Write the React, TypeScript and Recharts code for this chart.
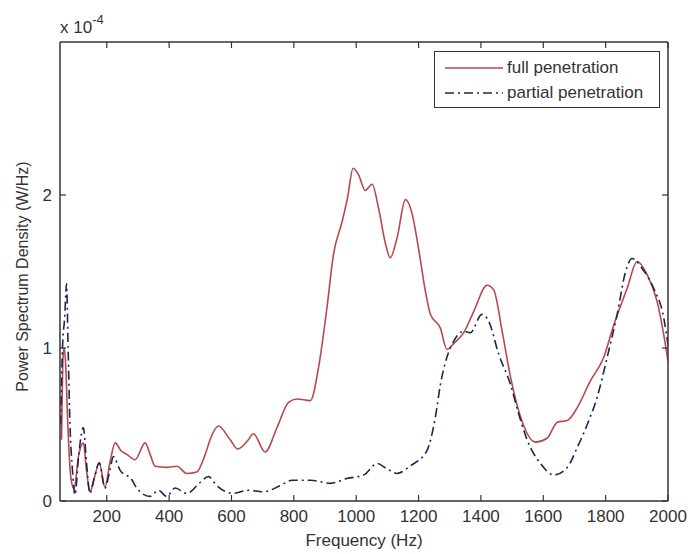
import { LineChart, Line, XAxis, YAxis } from 'recharts';

// values are in units of 1e-4 W/Hz (axis shows "x 10^-4")
const fullFreq = [
  55, 60, 64, 68, 75, 85, 95, 110, 125, 135, 146, 160, 176, 194, 210, 227, 245, 264, 291, 323,
  340, 355, 392, 425, 457, 489, 515, 535, 558, 596, 620, 654, 670, 708, 746, 783, 810, 853, 879, 906,
  927, 954, 972, 990, 1008, 1029, 1051, 1072, 1093, 1109, 1131, 1158, 1179, 1200, 1222, 1238, 1270, 1291, 1313, 1345,
  1377, 1420, 1441, 1468, 1495, 1527, 1575, 1612, 1645, 1677, 1709, 1751, 1794, 1826, 1869, 1901, 1933, 1965, 1986, 2000,
];
const fullPsd = [
  0.4, 0.95, 1.0, 0.9, 0.5, 0.15, 0.08, 0.3, 0.38, 0.2, 0.06, 0.15, 0.25, 0.09, 0.25, 0.38, 0.33, 0.305, 0.27, 0.38,
  0.3, 0.227, 0.22, 0.227, 0.18, 0.19, 0.3, 0.42, 0.49, 0.4, 0.34, 0.4, 0.44, 0.32, 0.48, 0.645, 0.667, 0.656, 0.87, 1.26,
  1.61, 1.82, 1.98, 2.175, 2.13, 2.03, 2.07, 1.91, 1.69, 1.59, 1.72, 1.97, 1.88, 1.65, 1.37, 1.22, 1.13, 0.99, 1.03, 1.1,
  1.24, 1.41, 1.38, 1.11, 0.81, 0.55, 0.385, 0.41, 0.515, 0.526, 0.61, 0.785, 0.94, 1.15, 1.39, 1.565, 1.48, 1.305, 1.09, 0.915,
];

const partialFreq = [
  52, 58, 65, 71, 76, 82, 90, 98, 110, 125, 135, 146, 160, 176, 194, 210, 221, 243, 280, 296,
  339, 366, 392, 419, 457, 499, 526, 553, 606, 654, 703, 756, 794, 853, 917, 970, 1024, 1067, 1099, 1131,
  1174, 1227, 1254, 1270, 1291, 1313, 1345, 1366, 1403, 1425, 1457, 1495, 1521, 1548, 1591, 1634, 1677, 1709, 1741, 1773,
  1805, 1837, 1864, 1885, 1917, 1954, 1986, 2000,
];
const partialPsd = [
  0.5, 1.0, 1.2, 1.42, 1.0, 0.5, 0.2, 0.04, 0.3, 0.48, 0.25, 0.05, 0.15, 0.25, 0.085, 0.2, 0.29, 0.2, 0.14, 0.085,
  0.03, 0.07, 0.03, 0.085, 0.05, 0.12, 0.16, 0.1, 0.05, 0.07, 0.06, 0.1, 0.136, 0.136, 0.115, 0.147, 0.17, 0.245, 0.21, 0.18,
  0.23, 0.33, 0.55, 0.76, 0.94, 1.045, 1.11, 1.1, 1.22, 1.175, 0.96, 0.76, 0.57, 0.4, 0.245, 0.17, 0.22, 0.35, 0.5, 0.68,
  0.94, 1.22, 1.5, 1.585, 1.52, 1.39, 1.2, 1.02,
];

const xTicks = [200, 400, 600, 800, 1000, 1200, 1400, 1600, 1800, 2000];
const yTicks = [0, 1, 2];

const fullData = fullFreq.map((f, i) => ({ freq: f, psd: fullPsd[i] }));
const partialData = partialFreq.map((f, i) => ({ freq: f, psd: partialPsd[i] }));

const FONT = '"Liberation Sans", Arial, sans-serif';
const INK = '#333';
const RED = '#b8494b';
const NAVY = '#1c2650';
const DASHDOT = '9 4 2 4';

const tickStyle = { fill: INK, fontSize: 17, fontFamily: FONT };

const YLabels = (props: any) => {
  const vb = props.viewBox || { x: 0, y: 42, width: 60, height: 459 };
  const cy = vb.y + vb.height / 2 + 5;
  return (
    <g fontFamily={FONT} fill={INK}>
      <text x={22} y={cy} transform={`rotate(-90, 22, ${cy})`} textAnchor="middle" dominantBaseline="central" fontSize={16}>
        Power Spectrum Density (W/Hz)
      </text>
      <text x={vb.x + vb.width} y={vb.y - 9} fontSize={17}>
        x 10
        <tspan dy={-9} fontSize={13}>-4</tspan>
      </text>
    </g>
  );
};

const legendItems = [
  { name: 'full penetration', color: RED, dash: undefined },
  { name: 'partial penetration', color: NAVY, dash: DASHDOT },
];

const LegendBox = () => (
  <div
    style={{
      position: 'absolute',
      left: 434,
      top: 51,
      border: `1.5px solid ${INK}`,
      background: '#fff',
      width: 226,
      height: 57,
      fontFamily: FONT,
      fontSize: 17,
      color: INK,
      boxSizing: 'border-box',
      padding: '3px 0 0 10px',
    }}
  >
    {legendItems.map((it) => (
      <div key={it.name} style={{ display: 'flex', alignItems: 'center', height: 25 }}>
        <svg width={58} height={10} style={{ marginRight: 4 }}>
          <line x1={0} y1={5} x2={58} y2={5} stroke={it.color} strokeWidth={1.6} strokeDasharray={it.dash} />
        </svg>
        <span>{it.name}</span>
      </div>
    ))}
  </div>
);

export default function App() {
  return (
    <div style={{ position: 'absolute', left: 0, top: 0, width: 688, height: 554, background: '#fff' }}>
      <LineChart width={688} height={554} margin={{ top: 41, right: 19, left: 0, bottom: 0 }}>
        <XAxis
          xAxisId="main"
          dataKey="freq"
          type="number"
          domain={[50, 2000]}
          ticks={xTicks}
          allowDataOverflow
          height={53}
          tickSize={-6}
          tickMargin={15}
          tick={tickStyle}
          stroke={INK}
          axisLine={{ stroke: INK, strokeWidth: 1.5 }}
          tickLine={{ stroke: INK, strokeWidth: 1.2 }}
          label={{ value: 'Frequency (Hz)', position: 'insideBottom', offset: 8, fill: INK, fontSize: 17, fontFamily: FONT }}
        />
        <XAxis
          xAxisId="top"
          orientation="top"
          dataKey="freq"
          type="number"
          domain={[50, 2000]}
          ticks={xTicks}
          allowDataOverflow
          height={1}
          tickSize={-6}
          tickFormatter={() => ''}
          axisLine={{ stroke: INK, strokeWidth: 1.5 }}
          tickLine={{ stroke: INK, strokeWidth: 1.2 }}
        />
        <YAxis
          yAxisId="main"
          type="number"
          domain={[0, 3]}
          ticks={yTicks}
          allowDataOverflow
          width={60}
          tickSize={-6}
          tickMargin={14}
          tick={tickStyle}
          axisLine={{ stroke: INK, strokeWidth: 1.5 }}
          tickLine={{ stroke: INK, strokeWidth: 1.2 }}
          label={<YLabels />}
        />
        <YAxis
          yAxisId="right"
          orientation="right"
          type="number"
          domain={[0, 3]}
          ticks={yTicks}
          allowDataOverflow
          width={1}
          tickSize={-6}
          tickFormatter={() => ''}
          axisLine={{ stroke: INK, strokeWidth: 1.5 }}
          tickLine={{ stroke: INK, strokeWidth: 1.2 }}
        />
        <Line
          xAxisId="main"
          yAxisId="main"
          data={fullData}
          dataKey="psd"
          name="full penetration"
          type="monotone"
          stroke={RED}
          strokeWidth={1.6}
          dot={false}
          isAnimationActive={false}
        />
        <Line
          xAxisId="main"
          yAxisId="main"
          data={partialData}
          dataKey="psd"
          name="partial penetration"
          type="monotone"
          stroke={NAVY}
          strokeWidth={1.6}
          strokeDasharray={DASHDOT}
          dot={false}
          isAnimationActive={false}
        />
      </LineChart>
      <LegendBox />
    </div>
  );
}
